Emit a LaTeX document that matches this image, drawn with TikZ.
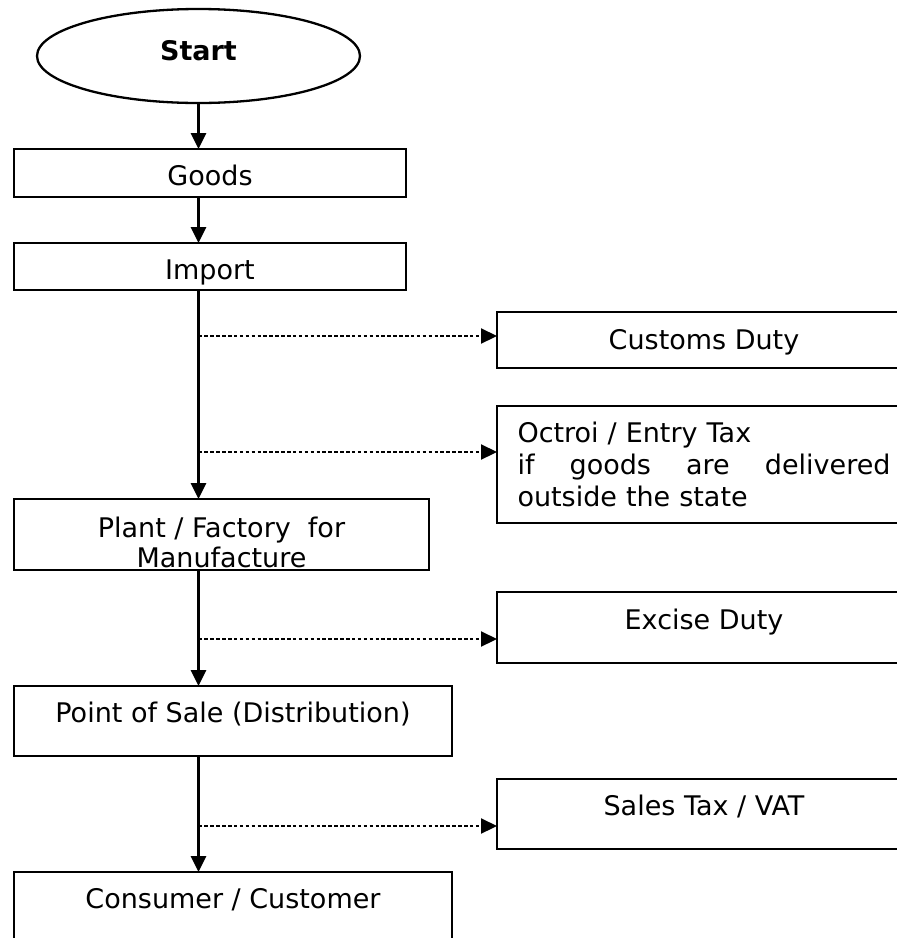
\documentclass[tikz,border=0pt]{standalone}
\usepackage{fontspec}
\setmainfont{DejaVu Sans}
\usetikzlibrary{arrows.meta,positioning,shapes.geometric}
\tikzset{
  stepbox/.style={rectangle, draw, line width=2.3pt, inner sep=0pt, outer sep=0pt, font=\fontsize{27}{32}\selectfont},
  taxbox/.style={stepbox, minimum width=414pt},
  lowtext/.style={text height=25pt, text depth=0pt},
  hightext/.style={text height=19pt, text depth=16pt},
  startnode/.style={ellipse, draw, line width=2.3pt, minimum width=323pt, minimum height=94pt, inner sep=0pt, outer sep=0pt, font=\bfseries\fontsize{27}{32}\selectfont, text height=19pt, text depth=10pt},
  line/.style={-{Triangle[length=16pt,width=15pt]}, line width=2.7pt},
  dotline/.style={-{Triangle[length=16pt,width=15pt]}, line width=2.2pt, dash pattern=on 3.5pt off 2.4pt}
}

\begin{document}
\begin{tikzpicture}[x=1pt, y=-1pt]
  \useasboundingbox (0,0) rectangle (897,938);
  \clip (0,0) rectangle (897,938);

  % main column
  \node[startnode] (start) at (198.5,56) {Start};
  \node[stepbox, lowtext, minimum width=392pt, minimum height=48pt, below=46pt of start, xshift=11.5pt] (goods) {Goods};
  \node[stepbox, lowtext, minimum width=392pt, minimum height=47pt, below=46pt of goods] (import) {Import};
  \node[stepbox, minimum width=415pt, minimum height=71pt, below=209pt of import, xshift=11.5pt] (plant) {};
  \node[font=\fontsize{27}{30}\selectfont, align=center, inner sep=0pt, anchor=north] (planttext) at ([yshift=-18pt]plant.north) {Plant / Factory\ \ for\\Manufacture};
  \node[stepbox, hightext, minimum width=438pt, minimum height=70pt, below=116pt of plant, xshift=11.5pt] (pos) {Point of Sale (Distribution)};
  \node[stepbox, hightext, minimum width=438pt, minimum height=70pt, below=116pt of pos] (consumer) {Consumer / Customer};

  % taxes
  \node[taxbox, text height=19pt, text depth=0pt, minimum height=56pt, below right=22pt and 91pt of import] (customs) {Customs Duty};
  \node[taxbox, minimum height=117pt, text width=373pt, inner xsep=20pt, align=left, below=38pt of customs] (octroi) {Octroi / Entry Tax\\
    \makebox[373pt]{if\hfill goods\hfill are\hfill delivered}\\
    outside the state};
  \node[taxbox, hightext, minimum height=71pt, below=69pt of octroi] (excise) {Excise Duty};
  \node[taxbox, hightext, minimum height=70pt, below=116pt of excise] (sales) {Sales Tax / VAT};

  \draw[line] (start.south) -- (goods.north -| start);
  \draw[line] (goods.south -| start) -- (import.north -| start);
  \draw[line] (import.south -| start) -- (plant.north -| start);
  \draw[line] (plant.south -| start) -- (pos.north -| start);
  \draw[line] (pos.south -| start) -- (consumer.north -| start);

  \coordinate (tap1) at ([yshift=4pt]customs.west -| start);
  \coordinate (tap2) at ([yshift=12.5pt]octroi.west -| start);
  \coordinate (tap3) at ([yshift=-11.5pt]excise.west -| start);
  \coordinate (tap4) at ([yshift=-12pt]sales.west -| start);
  \draw[dotline] (tap1) -- (tap1 -| customs.west);
  \draw[dotline] (tap2) -- (tap2 -| octroi.west);
  \draw[dotline] (tap3) -- (tap3 -| excise.west);
  \draw[dotline] (tap4) -- (tap4 -| sales.west);
\end{tikzpicture}
\end{document}
